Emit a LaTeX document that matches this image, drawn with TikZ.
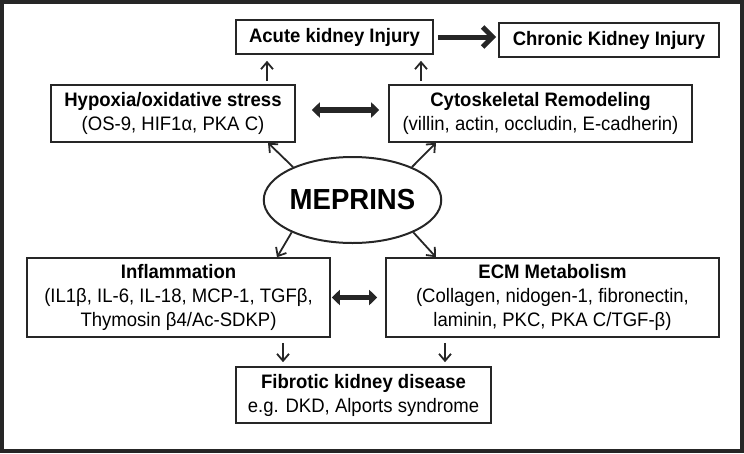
\documentclass[tikz,border=0pt]{standalone}
\usepackage{fontspec}
\setmainfont{Liberation Sans}[FakeStretch=0.95]
\usetikzlibrary{arrows.meta,shapes.geometric}
\begin{document}
\begin{tikzpicture}[x=1pt,y=-1pt,
  box/.style={draw=black!85, line width=1.6pt, rectangle, inner sep=0pt, align=center,
    font=\fontsize{19.5}{24}\selectfont},
  thinarrow/.style={draw=black!85, line width=1.8pt, -{Straight Barb[length=7pt,width=12pt]}},
  dblarrow/.style={draw=black!85, line width=5.5pt, {Triangle[length=8pt,width=15pt]}-{Triangle[length=8pt,width=15pt]}},
  bigarrow/.style={draw=black!85, line width=5pt, -{Straight Barb[length=10pt,width=20pt]}}
]
\useasboundingbox (0,0) rectangle (744,453);
\draw[black!85, line width=4pt] (2,2) rectangle (742,451);

\node[box, minimum width=197pt, minimum height=34pt] (acute) at (334.5,37) {\textbf{Acute kidney Injury}};
\node[box, minimum width=220pt, minimum height=34pt] (chronic) at (609,40) {\textbf{Chronic Kidney Injury}};
\node[box, minimum width=244pt, minimum height=57pt] (hyp) at (173,113.5) {\textbf{Hypoxia/oxidative stress}\\(OS-9, HIF1α, PKA C)};
\node[box, minimum width=303pt, minimum height=57pt] (cyto) at (540.5,113.5) {\textbf{Cytoskeletal Remodeling}\\(villin, actin, occludin, E-cadherin)};
\node[draw=black!85, line width=2pt, ellipse, inner sep=0pt, minimum width=173pt, minimum height=86pt,
  font=\fontsize{29}{32}\selectfont\bfseries] (mep) at (352.5,200) {MEPRINS};
\node[box, minimum width=303pt, minimum height=79pt] (infl) at (178.5,297.5) {\textbf{Inflammation}\\(IL1β, IL-6, IL-18, MCP-1, TGFβ,\\Thymosin β4/Ac-SDKP)};
\node[box, minimum width=333pt, minimum height=79pt] (ecm) at (552.5,297.5) {\textbf{ECM Metabolism}\\(Collagen, nidogen-1, fibronectin,\\laminin, PKC, PKA C/TGF-β)};
\node[box, minimum width=255pt, minimum height=56pt] (fib) at (363.5,395) {\textbf{Fibrotic kidney disease}\\e.g. DKD, Alports syndrome};

\coordinate (u1) at (267,0);
\coordinate (u2) at (421,0);
\coordinate (d1) at (283,0);
\coordinate (d2) at (445,0);

\draw[bigarrow, shorten <=4pt, shorten >=2pt] (acute.east) -- (acute.east -| chronic.west);
\draw[dblarrow, shorten <=16pt, shorten >=9pt] ([yshift=3.5pt]hyp.east) -- ([yshift=3.5pt]cyto.west);
\draw[dblarrow, shorten <=1pt, shorten >=8pt] (infl.east) -- (ecm.west);

\draw[thinarrow, shorten <=3pt, shorten >=6pt] (hyp.north -| u1) -- (acute.south -| u1);
\draw[thinarrow, shorten <=3pt, shorten >=6pt] (cyto.north -| u2) -- (acute.south -| u2);

\draw[thinarrow] (mep.151) -- ([xshift=95pt]hyp.south);
\draw[thinarrow] (mep.29) -- ([xshift=-104.5pt]cyto.south);
\draw[thinarrow] (mep.208) -- ([xshift=98.5pt]infl.north);
\draw[thinarrow] (mep.-28) -- ([xshift=-116.5pt]ecm.north);

\draw[thinarrow, shorten <=5pt, shorten >=4pt] (infl.south -| d1) -- (fib.north -| d1);
\draw[thinarrow, shorten <=5pt, shorten >=4pt] (ecm.south -| d2) -- (fib.north -| d2);
\end{tikzpicture}
\end{document}
